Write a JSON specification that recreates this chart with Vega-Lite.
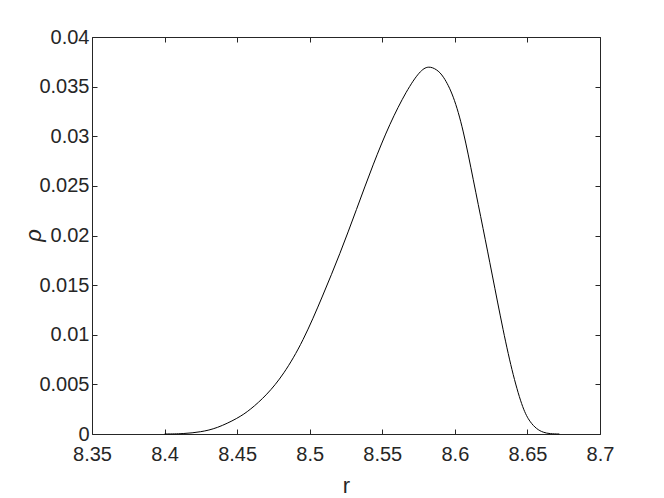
{
  "$schema": "https://vega.github.io/schema/vega-lite/v6.json",
  "width": 508,
  "height": 397,
  "autosize": "none",
  "padding": {"left": 92, "top": 37, "right": 64, "bottom": 64},
  "background": "white",
  "config": {
    "view": {"stroke": "#262626", "strokeWidth": 1},
    "font": "Liberation Sans",
    "axis": {
      "domain": false,
      "grid": false,
      "tickColor": "#262626",
      "tickSize": -5,
      "labelColor": "#262626",
      "labelFontSize": 20,
      "labelFlush": false,
      "labelOverlap": false,
      "titleFontSize": 22,
      "titleColor": "#262626",
      "titleFontWeight": "normal"
    }
  },
  "data": {
    "values": [
      {"r": 8.400, "rho": 0},
      {"r": 8.413, "rho": 0.00002},
      {"r": 8.425, "rho": 0.0002},
      {"r": 8.436, "rho": 0.00057},
      {"r": 8.4504, "rho": 0.00158},
      {"r": 8.4589, "rho": 0.00242},
      {"r": 8.4704, "rho": 0.00393},
      {"r": 8.4818, "rho": 0.00594},
      {"r": 8.4954, "rho": 0.0093},
      {"r": 8.5092, "rho": 0.0140},
      {"r": 8.5207, "rho": 0.0181},
      {"r": 8.5322, "rho": 0.0226},
      {"r": 8.5437, "rho": 0.0272},
      {"r": 8.5552, "rho": 0.0313},
      {"r": 8.5667, "rho": 0.0346},
      {"r": 8.5759, "rho": 0.0366},
      {"r": 8.5817, "rho": 0.0371},
      {"r": 8.5874, "rho": 0.03675},
      {"r": 8.592, "rho": 0.0361},
      {"r": 8.5989, "rho": 0.0342},
      {"r": 8.6058, "rho": 0.0307},
      {"r": 8.6127, "rho": 0.0256},
      {"r": 8.6196, "rho": 0.0206},
      {"r": 8.6254, "rho": 0.0163},
      {"r": 8.6334, "rho": 0.0103},
      {"r": 8.6402, "rho": 0.0058},
      {"r": 8.6471, "rho": 0.0024},
      {"r": 8.6518, "rho": 0.0012},
      {"r": 8.6563, "rho": 0.0005},
      {"r": 8.6609, "rho": 0.00015},
      {"r": 8.6655, "rho": 0.00002},
      {"r": 8.672, "rho": 0}
    ]
  },
  "layer": [
    {
      "mark": {"type": "line", "color": "black", "strokeWidth": 1, "interpolate": "basis"},
      "encoding": {
        "x": {
          "field": "r", "type": "quantitative",
          "scale": {"domain": [8.35, 8.7], "nice": false, "zero": false},
          "axis": {
            "orient": "bottom",
            "values": [8.35, 8.4, 8.45, 8.5, 8.55, 8.6, 8.65, 8.7],
            "format": "~g",
            "title": "r",
            "labelPadding": 15,
            "titleBaseline": "alphabetic",
            "titleY": 58
          }
        },
        "y": {
          "field": "rho", "type": "quantitative",
          "scale": {"domain": [0, 0.04], "nice": false},
          "axis": {
            "orient": "left",
            "values": [0, 0.005, 0.01, 0.015, 0.02, 0.025, 0.03, 0.035, 0.04],
            "format": "~g",
            "title": "ρ",
            "titleFontStyle": "italic",
            "labelPadding": 8,
            "titleBaseline": "middle",
            "titleAngle": -90,
            "titleX": -59,
            "titleY": 198
          }
        }
      }
    },
    {
      "mark": {"type": "line", "opacity": 0},
      "encoding": {
        "x": {
          "field": "r", "type": "quantitative",
          "axis": {"orient": "top", "values": [8.35, 8.4, 8.45, 8.5, 8.55, 8.6, 8.65, 8.7], "labels": false, "title": null}
        },
        "y": {
          "field": "rho", "type": "quantitative",
          "axis": {"orient": "right", "values": [0, 0.005, 0.01, 0.015, 0.02, 0.025, 0.03, 0.035, 0.04], "labels": false, "title": null}
        }
      }
    }
  ],
  "resolve": {"axis": {"x": "independent", "y": "independent"}}
}
